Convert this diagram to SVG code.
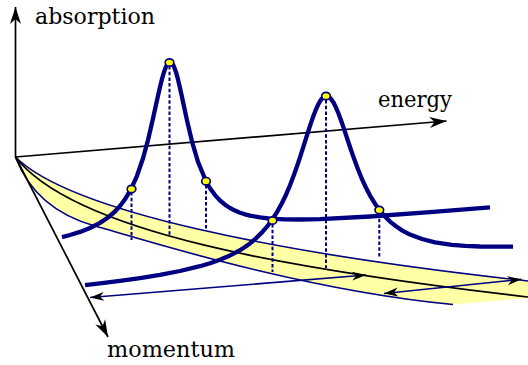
<svg xmlns="http://www.w3.org/2000/svg" width="528" height="365" viewBox="0 0 528 365">
<defs>
<marker id="axhead" markerUnits="userSpaceOnUse" markerWidth="20" markerHeight="14" viewBox="-18 -7 20 14" refX="0" refY="0" orient="auto-start-reverse"><path d="M0,0 L-17,-5.5 L-12,0 L-17,5.5 Z" fill="#000"/></marker>
<marker id="head" markerUnits="userSpaceOnUse" markerWidth="16" markerHeight="12" viewBox="-15 -6 16 12" refX="0" refY="0" orient="auto-start-reverse"><path d="M0,0 L-14,-4.5 L-10,0 L-14,4.5 Z" fill="#000"/></marker>
</defs>
<style>
.axis{stroke:#000;stroke-width:1.7;fill:none}
.edge{stroke:#000080;stroke-width:1.6;fill:none}
.mid{stroke:#000;stroke-width:1.7;fill:none}
.thin{stroke:#000080;stroke-width:1.6;fill:none}
.curve{stroke:#000080;stroke-width:4.3;fill:none;stroke-linejoin:round}
.drop{stroke:#000080;stroke-width:2;stroke-dasharray:3.5 2.2;fill:none}
.dot{fill:#ffff00;stroke:#000080;stroke-width:1.7}
.lbl{font-family:"DejaVu Serif","Liberation Serif",serif;font-size:22px;fill:#000}
</style>
<rect width="528" height="365" fill="#fff"/>
<g id="band">
<path d="M15.5,157 C70.5,212 278,253.5 528,281 L528,298 L453,304.5 C300,290 138,238 95,226 C52,214 28,190 15.5,157 Z" fill="#ffffa6"/>
<path class="edge" d="M15.5,157 C70.5,212 278,253.5 528,281"/>
<path class="edge" d="M15.5,157 C28,190 52,214 95,226 C138,238 300,290 453,304.5"/>
<path class="mid" d="M15.5,157 C73.5,232.4 288,269.4 528,297"/>
</g>
<g id="axes">
<line class="axis" x1="15.5" y1="157" x2="15.5" y2="7" marker-end="url(#axhead)"/>
<line class="axis" x1="15.5" y1="157" x2="446.5" y2="121" marker-end="url(#axhead)"/>
<line class="axis" x1="15.5" y1="157" x2="108" y2="337" marker-end="url(#axhead)"/>
</g>
<g id="connectors">
<line class="thin" x1="90" y1="297.5" x2="366" y2="275" marker-start="url(#head)" marker-end="url(#head)"/>
<line class="thin" x1="384" y1="293.5" x2="521.5" y2="279.3" marker-start="url(#head)" marker-end="url(#head)"/>
</g>
<g id="peak-a">
<path class="curve" d="M62,237.1 L70,235 L80,231.9 L90,228 L100,222.9 L108,217.5 L115,211.5 L120,206 L125,199.3 L131,189.1 L137,175.8 L143,158.3 L148,140.1 L153,118.6 L158,95.7 L160,87 L162,78.9 L164,72 L166,66.7 L168,63.3 L170,62 L172,63.1 L174,66.6 L176,72.2 L178,79.4 L180,87.9 L182,97 L184,106.5 L187,120.4 L192,141.6 L198,161.9 L206,181.2 L210,188.2 L215,195.1 L220,200.5 L225,204.7 L230,208 L235,210.6 L240,212.7 L245,214.3 L250,215.6 L260,217.4 L270,218.6 L285,219.4 L300,219.5 L320,219.1 L370,216.5 L430,212.2 L490,207.3"/>
</g>
<g id="peak-b">
<path class="curve" d="M85,285.2 L100,283.4 L120,280.9 L140,278.1 L160,274.9 L180,271 L200,266.2 L210,263.2 L220,259.7 L230,255.4 L235,252.9 L240,250.2 L245,247 L250,243.4 L255,239.2 L262,232.4 L267,226.7 L272,220 L277,212.1 L282,203 L286,194.7 L290,185.3 L294,174.8 L298,163.4 L302,151.1 L305,141.6 L308,132 L311,122.9 L313.5,115.7 L316,109.3 L318.5,103.8 L321,99.7 L323.5,97 L326,96 L328.5,96.6 L331,98.9 L333.5,102.5 L336,107.6 L338.5,113.5 L341,120.3 L344,128.9 L347,138 L350,147 L354,158.6 L358,169.3 L362,179.2 L366,187.8 L370,195.6 L375,203.7 L380,210.8 L385,216.6 L390,221.6 L396,226.3 L402,230.4 L410,234.6 L422,239 L435,242.3 L452,244.8 L465,245.9 L480,246.5 L495,246.7 L513,246.6"/>
</g>
<g id="drops">
<line class="drop" x1="131.5" y1="192" x2="131.5" y2="240"/>
<line class="drop" x1="169.5" y1="66" x2="169.5" y2="235"/>
<line class="drop" x1="206" y1="185" x2="206" y2="230"/>
<line class="drop" x1="272.5" y1="224" x2="272.5" y2="272"/>
<line class="drop" x1="326" y1="100" x2="326" y2="268"/>
<line class="drop" x1="379.3" y1="213" x2="379.3" y2="258"/>
</g>
<g id="dots">
<ellipse class="dot" cx="131.5" cy="189" rx="4.3" ry="3.7"/>
<ellipse class="dot" cx="169.5" cy="62.5" rx="4.3" ry="3.7"/>
<ellipse class="dot" cx="206" cy="181.2" rx="4.3" ry="3.7"/>
<ellipse class="dot" cx="272.5" cy="220.5" rx="4.3" ry="3.7"/>
<ellipse class="dot" cx="326" cy="96" rx="4.3" ry="3.7"/>
<ellipse class="dot" cx="379.3" cy="210" rx="4.3" ry="3.7"/>
</g>
<g id="labels">
<text class="lbl" x="35" y="24" textLength="120" lengthAdjust="spacingAndGlyphs">absorption</text>
<text class="lbl" x="378" y="107" textLength="74" lengthAdjust="spacingAndGlyphs">energy</text>
<text class="lbl" x="107" y="357" textLength="128" lengthAdjust="spacingAndGlyphs">momentum</text>
</g>
</svg>
